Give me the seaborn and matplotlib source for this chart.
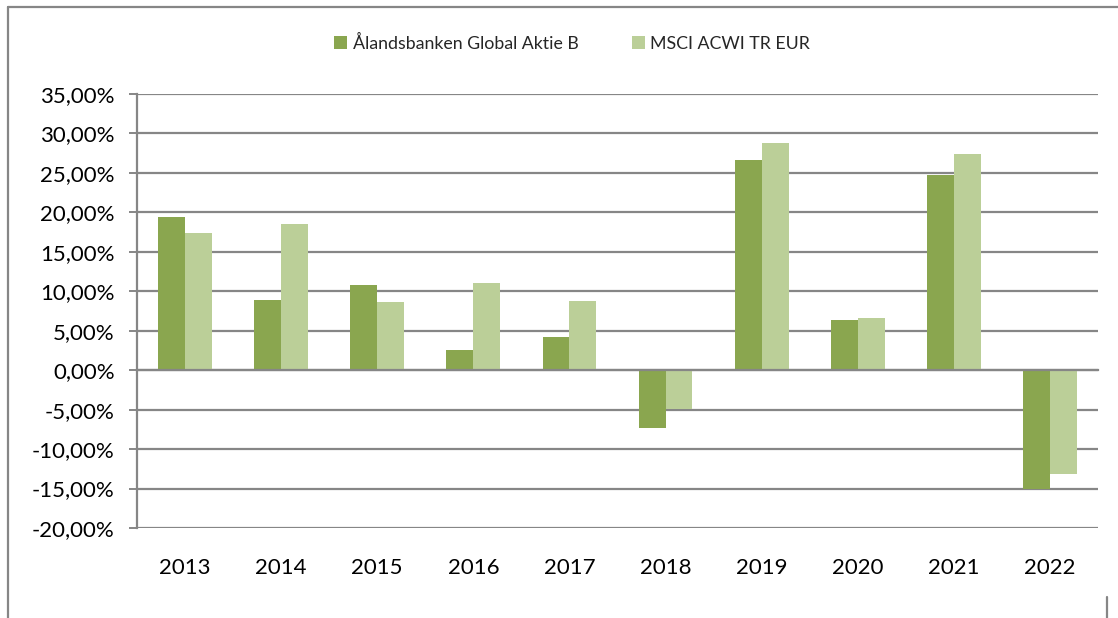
import numpy as np
import pandas as pd
import matplotlib
matplotlib.use("Agg")
import matplotlib.pyplot as plt
from matplotlib.lines import Line2D
from matplotlib.ticker import FuncFormatter, FixedLocator
import seaborn as sns

# data
years = ["2013", "2014", "2015", "2016", "2017", "2018", "2019", "2020", "2021", "2022"]
fund = [0.194, 0.089, 0.108, 0.026, 0.042, -0.073, 0.266, 0.064, 0.247, -0.151]
index_ret = [0.174, 0.185, 0.087, 0.110, 0.088, -0.049, 0.288, 0.066, 0.274, -0.131]
series_names = ["Ålandsbanken Global Aktie B", "MSCI ACWI TR EUR"]
colors = ["#8AA64F", "#BBCF98"]

df = pd.DataFrame({
    "year": years * 2,
    "value": fund + index_ret,
    "series": [series_names[0]] * len(years) + [series_names[1]] * len(years),
})

sns.set_style("white")
plt.rcParams["font.family"] = ["Lato", "DejaVu Sans"]
grey = "#868686"


def pct(v, pos):
    v = round(v * 100, 2) + 0.0
    if abs(v) < 1e-9:
        v = 0.0
    return f"{v:.2f}%".replace(".", ",")


fig = plt.figure(figsize=(11.18, 6.18), dpi=100)
ax = fig.add_axes([137 / 1118, 1 - 528 / 618, (1098 - 137) / 1118, (528 - 94) / 618])

sns.barplot(data=df, x="year", y="value", hue="series", palette=colors,
            width=0.56, saturation=1, errorbar=None, ax=ax, zorder=3,
            linewidth=0, edgecolor="none")

ax.set_xlim(-0.5, len(years) - 0.5)
ax.set_ylim(-0.20, 0.35)
ax.set_yticks(np.arange(-0.20, 0.351, 0.05))
ax.yaxis.set_major_formatter(FuncFormatter(pct))
ax.grid(axis="y", color=grey, linewidth=1.6, zorder=0)
ax.set_axisbelow(True)
ax.set_xlabel("")
ax.set_ylabel("")

for s in ["top", "right"]:
    ax.spines[s].set_visible(False)
ax.spines["left"].set_color(grey)
ax.spines["left"].set_linewidth(1.6)
ax.spines["bottom"].set_position(("data", 0))
ax.spines["bottom"].set_color(grey)
ax.spines["bottom"].set_linewidth(1.6)
ax.spines["bottom"].set_zorder(4)

ax.xaxis.set_minor_locator(FixedLocator(np.arange(-0.5, len(years), 1.0)))
ax.tick_params(axis="x", which="minor", length=6, width=1.4, color=grey, direction="out")
ax.tick_params(axis="x", which="major", length=0, pad=135, labelsize=16, labelcolor="#000000")
ax.tick_params(axis="y", length=6, width=1.4, color=grey, pad=10, labelsize=16,
               labelcolor="#000000", left=True)

leg = ax.legend(loc="center", bbox_to_anchor=(572 / 1118, 1 - 43 / 618),
                bbox_transform=fig.transFigure, ncol=2, frameon=False,
                fontsize=12.8, handlelength=0.75, handleheight=0.75,
                handletextpad=0.3, columnspacing=3.0)

# outer chart border
fig.add_artist(Line2D([8 / 1118, 1], [1 - 7 / 618, 1 - 7 / 618], color=grey, linewidth=1.6))
fig.add_artist(Line2D([8 / 1118, 8 / 1118], [0, 1 - 7 / 618], color=grey, linewidth=1.6))
fig.add_artist(Line2D([1107 / 1118, 1107 / 1118], [0, 1 - 597 / 618], color=grey, linewidth=1.6))

fig.savefig("out.png", dpi=100)
